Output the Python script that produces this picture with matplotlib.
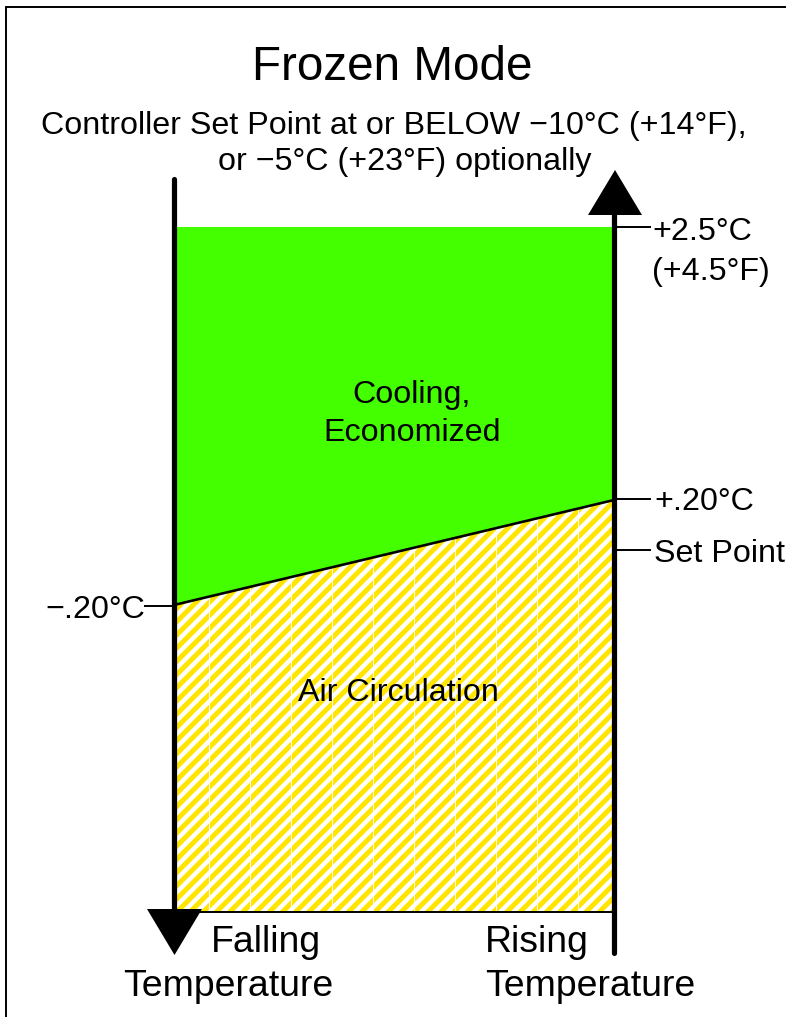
import matplotlib
matplotlib.use("Agg")
import matplotlib.pyplot as plt
from matplotlib.patches import Polygon
from matplotlib.collections import LineCollection
import numpy as np

plt.rcParams['font.family'] = ['Liberation Sans', 'DejaVu Sans']

# ---- data / text content ----
title = "Frozen Mode"
subtitle = ["Controller Set Point at or BELOW \u221210\u00b0C (+14\u00b0F),",
            "or \u22125\u00b0C (+23\u00b0F) optionally"]
right_labels = ["+2.5\u00b0C", "(+4.5\u00b0F)", "+.20\u00b0C", "Set Point"]
left_labels = ["\u2212.20\u00b0C"]
zone_labels = ["Cooling,", "Economized", "Air Circulation"]
axis_labels = ["Falling", "Temperature", "Rising", "Temperature"]

GREEN = "#44FF00"
YELLOW = "#FFE500"

DPI = 78
W, H = 786, 1017
fig = plt.figure(figsize=(W / DPI, H / DPI), dpi=DPI)
ax = fig.add_axes([0, 0, 1, 1])
ax.set_xlim(0, W)
ax.set_ylim(H, 0)
ax.axis("off")

# outer frame (left + top visible)
ax.plot([6, 6, W + 5], [H + 5, 7, 7], color="black", lw=1.8, solid_joinstyle="miter")

xl, xr = 174, 614
y_top, y_bot = 227, 912
yl_b, yr_b = 605, 500

# green cooling zone
ax.add_patch(Polygon([[xl, y_top], [xr, y_top], [xr, yr_b], [xl, yl_b]],
                     closed=True, facecolor=GREEN, edgecolor="none", zorder=1))
# air circulation zone: white base with yellow diagonal stripes
hatch_poly = Polygon([[xl, yl_b], [xr, yr_b], [xr, y_bot], [xl, y_bot]],
                     closed=True, facecolor="white", edgecolor="none", zorder=1)
ax.add_patch(hatch_poly)
period = 13.2
cs = np.arange(xl + 400, xr + y_bot + 20, period)
segs = [[(c - 1000, 1000), (c - 300, 300)] for c in cs]  # lines x + y = c
stripes = LineCollection(segs, colors=YELLOW, linewidths=4.6, zorder=2)
ax.add_collection(stripes)
stripes.set_clip_path(hatch_poly)
# thin white tile seams
seams = LineCollection([[(xs, 400), (xs, y_bot)] for xs in np.arange(208.5, 600, 41)],
                       colors="white", linewidths=0.9, zorder=2.5)
ax.add_collection(seams)
seams.set_clip_path(hatch_poly)

# boundary lines
ax.plot([xl, xr], [yl_b, yr_b], color="black", lw=2.4, zorder=3)
ax.plot([xl, xr], [y_bot, y_bot], color="black", lw=1.8, zorder=3)

# vertical axes with arrows
ax.plot([xl, xl], [179, 912], color="black", lw=4.8, solid_capstyle="round", zorder=4)
ax.add_patch(Polygon([[147, 909], [202, 909], [xl + 0.5, 955]], closed=True,
                     facecolor="black", edgecolor="none", zorder=4))
ax.plot([xr, xr], [214, 953], color="black", lw=4.8, solid_capstyle="round", zorder=4)
ax.add_patch(Polygon([[588, 215], [642, 215], [615, 170]], closed=True,
                     facecolor="black", edgecolor="none", zorder=4))

# ticks
for yt in [227, 499, 550]:
    ax.plot([xr, 650], [yt, yt], color="black", lw=1.8, zorder=3)
ax.plot([145, xl], [606, 606], color="black", lw=1.8, zorder=3)

fs = 29.8
# title & subtitle
ax.text(392, 80, title, fontsize=44, ha="center", va="baseline")
ax.text(394, 134, subtitle[0], fontsize=fs, ha="center", va="baseline")
ax.text(405, 170, subtitle[1], fontsize=fs, ha="center", va="baseline")

# right labels
ax.text(652, 240, right_labels[0], fontsize=fs, ha="left", va="baseline")
ax.text(652, 280, right_labels[1], fontsize=fs, ha="left", va="baseline")
ax.text(654, 510, right_labels[2], fontsize=fs, ha="left", va="baseline")
ax.text(654, 562, right_labels[3], fontsize=fs, ha="left", va="baseline")
# left label
ax.text(145, 618, left_labels[0], fontsize=fs, ha="right", va="baseline")

# zone labels
ax.text(412, 403, zone_labels[0], fontsize=fs, ha="center", va="baseline")
ax.text(412, 441, zone_labels[1], fontsize=fs, ha="center", va="baseline")
ax.text(398, 701, zone_labels[2], fontsize=fs, ha="center", va="baseline")

# axis labels
fs2 = 34.5
ax.text(266, 952, axis_labels[0], fontsize=fs2, ha="center", va="baseline")
ax.text(228, 996, axis_labels[1], fontsize=fs2, ha="center", va="baseline")
ax.text(537, 952, axis_labels[2], fontsize=fs2, ha="center", va="baseline")
ax.text(590, 996, axis_labels[3], fontsize=fs2, ha="center", va="baseline")

fig.savefig("out.png", dpi=DPI)
